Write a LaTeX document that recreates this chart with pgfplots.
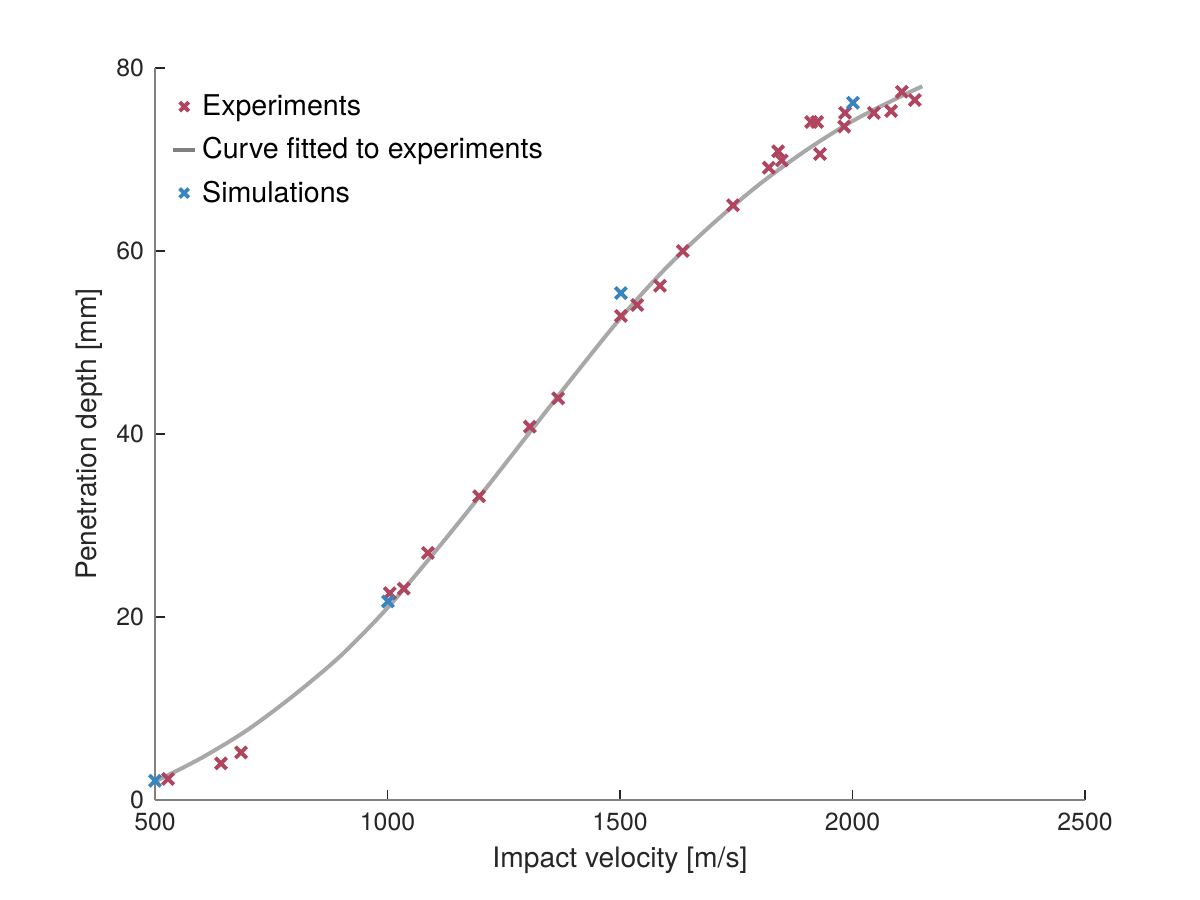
\documentclass[border=0pt]{standalone}
\usepackage{fontspec}
\setmainfont{TeX Gyre Heros}
\usepackage{pgfplots}
\pgfplotsset{compat=1.18}
\definecolor{expred}{RGB}{176,69,95}
\definecolor{simblue}{RGB}{58,133,190}
\definecolor{fitgray}{RGB}{168,168,168}
\definecolor{axgray}{RGB}{128,128,128}
\definecolor{txt}{RGB}{38,38,38}
\pgfplotsset{
  marklegend/.style={legend image code/.code={\path[draw=none] (-2pt,0pt) -- (14pt,0pt);\draw[only marks,mark repeat=2,mark phase=2,mark size=3.2pt,##1] plot coordinates {(0pt,0pt) (7pt,0pt) (14pt,0pt)};}},
  linelegend/.style={legend image code/.code={\path[draw=none] (-2pt,0pt) -- (14pt,0pt);\draw[##1, color=axgray] (1.5pt,0pt) -- (12.5pt,0pt);}},
}
\begin{document}
\begin{tikzpicture}[x=1pt,y=1pt]
\useasboundingbox (0,0) rectangle (600,450);
\begin{axis}[
  at={(77.5pt,50pt)}, anchor=origin,
  scale only axis, width=465pt, height=366pt,
  xmin=500, xmax=2500, ymin=0, ymax=80,
  xtick={500,1000,1500,2000,2500},
  ytick={0,20,40,60,80},
  axis x line*=bottom, axis y line*=left,
  axis line style={axgray, line width=0.6pt, -},
  tick style={txt, line width=0.6pt},
  tick align=inside,
  major tick length=5pt,
  ticklabel style={font=\fontsize{12.4}{14}\selectfont, text=txt},
  /pgf/number format/assume math mode=true,
  /pgf/number format/1000 sep={},
  xticklabel style={yshift=-3pt},
  yticklabel style={xshift=-2pt},
  xlabel={Impact velocity [m/s]},
  ylabel={Penetration depth [mm]},
  label style={font=\fontsize{14.1}{16}\selectfont, text=txt},
  xlabel style={yshift=-1pt},
  ylabel style={yshift=0pt},
  legend style={draw=none, fill=none, at={(0.003,0.975)}, anchor=north west,
    font=\fontsize{14.3}{16}\selectfont, row sep=5.5pt, inner xsep=4pt},
  legend cell align=left,
  clip=false,
]
\addplot[only marks, mark=x, mark size=4pt, mark options={line width=1.9pt}, color=expred, marklegend]
coordinates {
(528,2.3) (642,4.0) (685,5.2) (1005,22.6) (1035,23.1) (1087,27.0)
(1197,33.2) (1306,40.8) (1367,43.9) (1502,52.9) (1537,54.1) (1586,56.2)
(1635,60.0) (1743,65.0) (1820,69.1) (1840,70.9) (1848,69.9) (1911,74.1)
(1924,74.1) (1930,70.6) (1982,73.6) (1984,75.1) (2046,75.1) (2083,75.3)
(2106,77.4) (2134,76.5)
};
\addlegendentry{Experiments}
\addplot[color=fitgray, line width=2pt, smooth, no marks, linelegend]
coordinates {
(500,2.0) (600,4.6) (700,7.7) (800,11.5) (900,15.8) (1000,21.0)
(1100,27.0) (1200,33.3) (1300,39.8) (1400,46.3) (1500,52.6) (1600,58.2)
(1700,63.0) (1800,67.3) (1900,71.0) (2000,74.2) (2100,76.8) (2150,78.0)
};
\addlegendentry{Curve fitted to experiments}
\addplot[only marks, mark=x, mark size=4pt, mark options={line width=1.9pt}, color=simblue, marklegend]
coordinates {
(500,2.1) (1001,21.7) (1502,55.4) (2001,76.2)
};
\addlegendentry{Simulations}
\end{axis}
\end{tikzpicture}
\end{document}
